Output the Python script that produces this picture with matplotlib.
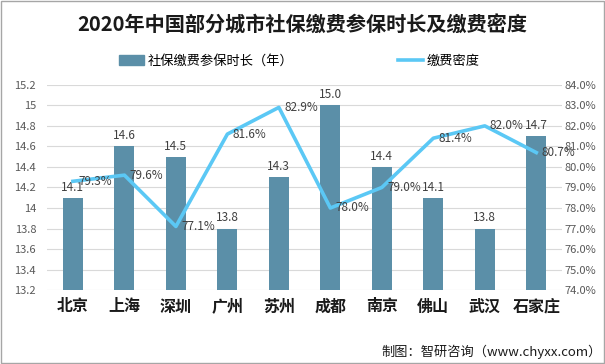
import matplotlib.pyplot as plt
from matplotlib.patches import Rectangle
from matplotlib.lines import Line2D

plt.rcParams['font.family'] = ['Noto Sans CJK SC', 'DejaVu Sans']

cities = ["北京", "上海", "深圳", "广州", "苏州", "成都", "南京", "佛山", "武汉", "石家庄"]
years = [14.1, 14.6, 14.5, 13.8, 14.3, 15.0, 14.4, 14.1, 13.8, 14.7]
density = [79.3, 79.6, 77.1, 81.6, 82.9, 78.0, 79.0, 81.4, 82.0, 80.7]

bar_color = "#5b8fa8"
line_color = "#5bc8f5"
tick_color = "#595959"

fig = plt.figure(figsize=(6.05, 3.64), dpi=100)
ax = fig.add_axes([0.078, 0.203, 0.851, 0.564])
x = range(len(cities))

ax.bar(x, years, width=0.39, color=bar_color, zorder=2)
ax.set_ylim(13.2, 15.2)
ax.set_yticks([13.2 + 0.2 * i for i in range(11)])
ax.set_yticklabels(["13.2", "13.4", "13.6", "13.8", "14", "14.2", "14.4",
                    "14.6", "14.8", "15", "15.2"])
ax.set_xlim(-0.5, len(cities) - 0.5)
ax.set_xticks(list(x))
ax.set_xticklabels(cities, fontsize=11.5, fontweight="bold", color="#1a1a1a")
ax.tick_params(axis="x", length=0, pad=6)
ax.tick_params(axis="y", length=0, labelsize=8, labelcolor=tick_color, pad=8)
ax.grid(axis="y", color="#d9d9d9", linewidth=0.8, zorder=0)
for s in ax.spines.values():
    s.set_visible(False)
for i, v in enumerate(years):
    ax.text(i, v + 0.04, "%.1f" % v, ha="center", va="bottom", fontsize=8.5, color="#404040")

ax2 = ax.twinx()
ax2.plot(x, density, color=line_color, linewidth=2.6, zorder=3)
ax2.set_ylim(74, 84)
ax2.set_yticks(range(74, 85))
ax2.set_yticklabels(["%.1f%%" % v for v in range(74, 85)])
ax2.tick_params(axis="y", length=0, labelsize=8, labelcolor=tick_color, pad=2)
for s in ax2.spines.values():
    s.set_visible(False)
for i, v in enumerate(density):
    ax2.text(i + 0.1, v, "%.1f%%" % v, ha="left", va="center", fontsize=8.5, color="#404040")

fig.text(0.5, 0.932, "2020年中国部分城市社保缴费参保时长及缴费密度", ha="center", va="center",
         fontsize=14.5, fontweight="bold", color="#1a1a1a")

handles = [Rectangle((0, 0), 1, 1, color=bar_color),
           Line2D([0], [0], color=line_color, linewidth=2.6)]
fig.legend(handles, ["社保缴费参保时长（年）", "缴费密度"], loc="center",
           bbox_to_anchor=(0.495, 0.832), ncol=2, frameon=False, fontsize=9.5,
           columnspacing=7.9, handlelength=1.9, handletextpad=0.3)

fig.text(0.995, 0.034, "制图：智研咨询（www.chyxx.com）", ha="right", va="center",
         fontsize=9.5, color="#1a1a1a")

fig.patches.append(Rectangle((0.001, 0.002), 0.997, 0.995, transform=fig.transFigure,
                             fill=False, edgecolor="#a6a6a6", linewidth=1))

fig.savefig("out.png", dpi=100)
